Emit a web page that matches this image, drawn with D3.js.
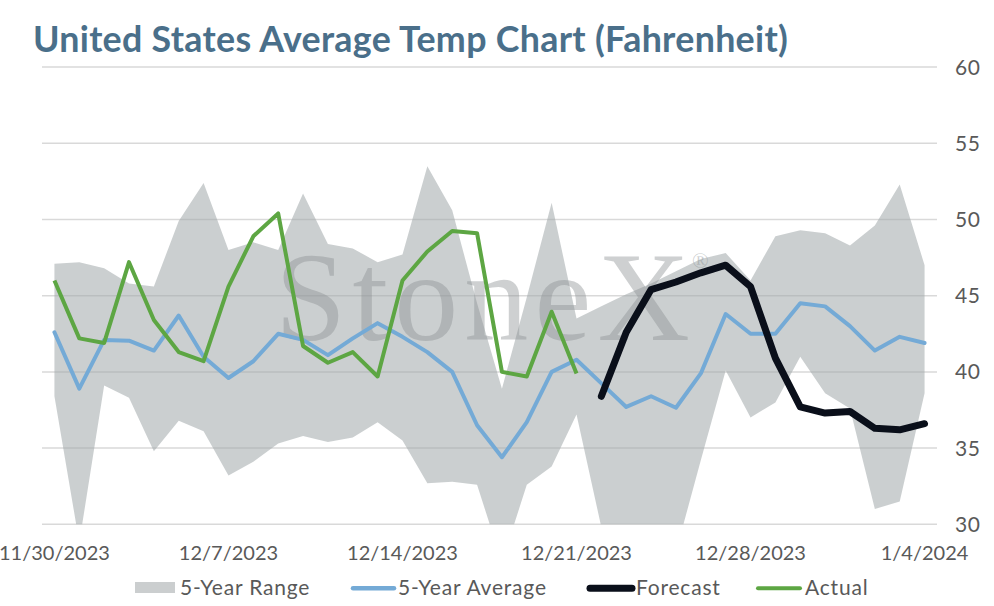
<!DOCTYPE html>
<html>
<head>
<meta charset="utf-8">
<script src="https://cdn.jsdelivr.net/npm/d3@7"></script>
<style>
  html, body { margin: 0; padding: 0; background: #fff; }
  svg { display: block; }
</style>
</head>
<body>
<svg id="chart" width="994" height="606"></svg>
<script>
const dates = ["11/30/2023","12/1/2023","12/2/2023","12/3/2023","12/4/2023","12/5/2023","12/6/2023",
  "12/7/2023","12/8/2023","12/9/2023","12/10/2023","12/11/2023","12/12/2023","12/13/2023",
  "12/14/2023","12/15/2023","12/16/2023","12/17/2023","12/18/2023","12/19/2023","12/20/2023",
  "12/21/2023","12/22/2023","12/23/2023","12/24/2023","12/25/2023","12/26/2023","12/27/2023",
  "12/28/2023","12/29/2023","12/30/2023","12/31/2023","1/1/2024","1/2/2024","1/3/2024","1/4/2024"];
const tickDates = ["11/30/2023","12/7/2023","12/14/2023","12/21/2023","12/28/2023","1/4/2024"];
const yTicks = [30,35,40,45,50,55,60];

const rangeHigh = [47.1,47.2,46.8,45.8,45.6,49.9,52.4,48.0,48.5,48.0,51.7,48.4,48.1,47.2,47.7,53.5,50.6,44.5,38.9,44.9,51.1,43.5,44.3,45.1,45.8,46.6,47.4,47.8,46.0,48.9,49.3,49.1,48.3,49.6,52.3,47.0];
const rangeLow  = [38.4,28.8,39.1,38.3,34.8,36.8,36.1,33.2,34.1,35.3,35.8,35.4,35.7,36.7,35.5,32.7,32.8,32.6,27.5,32.6,33.8,37.2,29.8,28.5,28.5,28.2,34.2,40.1,37.0,38.0,41.0,38.6,37.6,31.0,31.5,38.6];
const avg5 = [42.6,38.9,42.1,42.05,41.4,43.7,41.0,39.6,40.7,42.5,42.1,41.1,42.2,43.2,42.3,41.3,40.0,36.5,34.4,36.7,40.0,40.8,39.25,37.7,38.4,37.65,39.9,43.8,42.5,42.5,44.5,44.3,43.0,41.4,42.3,41.9];
const actual = [46.0,42.2,41.9,47.2,43.4,41.3,40.7,45.6,48.9,50.4,41.7,40.6,41.3,39.7,46.0,47.9,49.25,49.1,40.0,39.7,43.95,39.9,null,null,null,null,null,null,null,null,null,null,null,null,null,null];
const forecast = [null,null,null,null,null,null,null,null,null,null,null,null,null,null,null,null,null,null,null,null,null,null,38.4,42.6,45.4,45.9,46.5,47.0,45.6,40.9,37.7,37.3,37.4,36.3,36.2,36.6];

const svg = d3.select("#chart");
const FONT = "Lato, 'Open Sans', sans-serif";
const plot = {left: 42, right: 937, top: 67.1, bottom: 524.3};

const x = d3.scalePoint().domain(dates).range([plot.left, plot.right]).padding(0.5);
const y = d3.scaleLinear().domain([30, 60]).range([plot.bottom, plot.top]);

// title
const title = svg.append("text")
  .attr("x", 33).attr("y", 52)
  .attr("font-family", FONT).attr("font-weight", 700)
  .attr("font-size", 32).attr("fill", "#4a6f8a")
  .attr("letter-spacing", 0.3)
  .text("United States Average Temp Chart (Fahrenheit)");
{
  const w = title.node().getComputedTextLength();
  title.attr("font-size", 32 * 757 / w);
}

svg.append("defs").append("clipPath").attr("id", "clip")
  .append("rect").attr("x", plot.left).attr("y", plot.top)
  .attr("width", plot.right - plot.left).attr("height", plot.bottom - plot.top);

// gridlines
svg.append("g").selectAll("line").data(yTicks).join("line")
  .attr("x1", plot.left).attr("x2", plot.right)
  .attr("y1", d => y(d)).attr("y2", d => y(d))
  .attr("stroke", "#d9d9d9").attr("stroke-width", 1.5);

// range area
const area = d3.area()
  .x((d, i) => x(dates[i]))
  .y0((d, i) => y(rangeLow[i]))
  .y1((d, i) => y(rangeHigh[i]));
svg.append("path").datum(rangeHigh)
  .attr("clip-path", "url(#clip)")
  .attr("d", area)
  .attr("fill", "#a3a9ab").attr("fill-opacity", 0.56);

// watermark
svg.append("text")
  .attr("x", 275).attr("y", 340)
  .attr("font-family", "'Liberation Serif', 'DejaVu Serif', serif")
  .attr("font-size", 128)
  .attr("fill", "#8a8f91").attr("fill-opacity", 0.42)
  .attr("textLength", 415).attr("lengthAdjust", "spacing")
  .text("StoneX");
svg.append("text")
  .attr("x", 692).attr("y", 268)
  .attr("font-family", "'Liberation Serif', serif")
  .attr("font-size", 22)
  .attr("fill", "#8a8f91").attr("fill-opacity", 0.42)
  .text("®");

const lineGen = arr => d3.line()
  .defined(d => d != null)
  .x((d, i) => x(dates[i]))
  .y(d => y(d))(arr);

svg.append("path").attr("d", lineGen(avg5))
  .attr("fill", "none").attr("stroke", "#74aad6").attr("stroke-width", 4)
  .attr("stroke-linejoin", "round").attr("stroke-linecap", "round");
svg.append("path").attr("d", lineGen(actual))
  .attr("fill", "none").attr("stroke", "#5da643").attr("stroke-width", 4)
  .attr("stroke-linejoin", "round");
svg.append("path").attr("d", lineGen(forecast))
  .attr("fill", "none").attr("stroke", "#0a0f1a").attr("stroke-width", 7)
  .attr("stroke-linejoin", "round").attr("stroke-linecap", "round");

// y axis labels (right)
svg.append("g").selectAll("text").data(yTicks).join("text")
  .attr("x", 955).attr("y", d => y(d))
  .attr("dy", "0.36em")
  .attr("font-family", FONT).attr("font-size", 21).attr("fill", "#595959")
  .attr("letter-spacing", 0.6)
  .text(d => d);

// x axis labels
svg.append("g").selectAll("text").data(tickDates).join("text")
  .attr("x", d => x(d)).attr("y", 560)
  .attr("text-anchor", "middle")
  .attr("font-family", FONT).attr("font-size", 20).attr("fill", "#595959")
  .text(d => d);

// legend
const lg = svg.append("g").attr("font-family", FONT).attr("font-size", 21).attr("fill", "#595959")
  .attr("letter-spacing", 0.8);
lg.append("rect").attr("x", 135).attr("y", 582).attr("width", 40).attr("height", 11).attr("fill", "#cbcecf");
lg.append("text").attr("x", 180).attr("y", 595).text("5-Year Range");
lg.append("line").attr("x1", 353).attr("x2", 394).attr("y1", 588.3).attr("y2", 588.3)
  .attr("stroke", "#74aad6").attr("stroke-width", 4.5).attr("stroke-linecap", "round");
lg.append("text").attr("x", 398).attr("y", 595).text("5-Year Average");
lg.append("line").attr("x1", 590).attr("x2", 632).attr("y1", 588.3).attr("y2", 588.3)
  .attr("stroke", "#0a0f1a").attr("stroke-width", 7).attr("stroke-linecap", "round");
lg.append("text").attr("x", 636).attr("y", 595).text("Forecast");
lg.append("line").attr("x1", 758).attr("x2", 800).attr("y1", 588.3).attr("y2", 588.3)
  .attr("stroke", "#5da643").attr("stroke-width", 4).attr("stroke-linecap", "round");
lg.append("text").attr("x", 805).attr("y", 595).text("Actual");
</script>
</body>
</html>
